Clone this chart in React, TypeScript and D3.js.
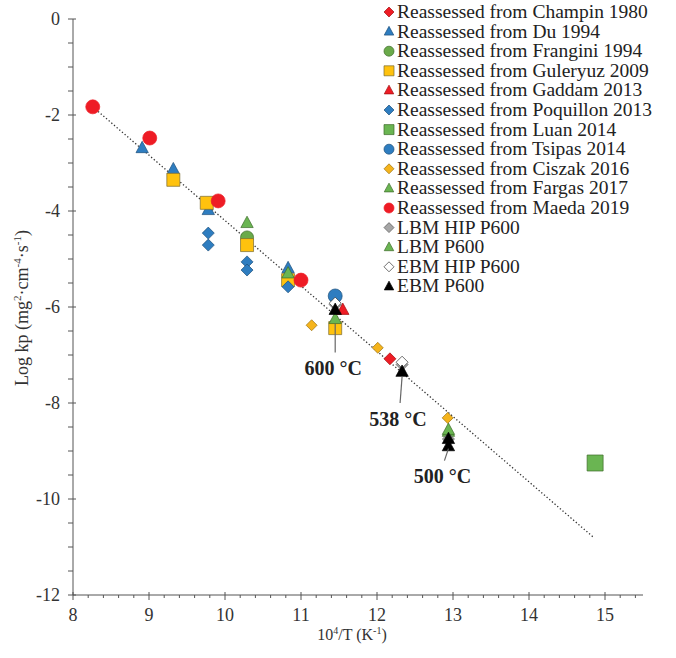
import React, { useEffect, useRef } from "react";
import * as d3 from "d3";

// series data: [10^4/T, log kp]
const champin = [[12.17, -7.08]];
const du = [[8.91, -2.69], [9.32, -3.13], [9.78, -3.98], [10.83, -5.19]];
const frangini = [[10.29, -4.55]];
const guleryuz = [[9.32, -3.35], [9.76, -3.83], [10.29, -4.71], [10.83, -5.44], [11.45, -6.44]];
const gaddam = [[11.55, -6.06]];
const poquillon = [[9.78, -4.46], [9.78, -4.71], [10.29, -5.06], [10.29, -5.23], [10.83, -5.58]];
const luan = [[14.87, -9.25]];
const tsipas = [[11.45, -5.77]];
const ciszak = [[11.14, -6.38], [12.01, -6.85], [12.93, -8.31]];
const fargas = [[10.29, -4.25], [10.83, -5.3], [12.94, -8.6]];
const maeda = [[8.26, -1.83], [9.01, -2.48], [9.91, -3.79], [11.0, -5.44]];
const lbmHip = [[11.45, -5.95], [12.33, -7.2], [12.94, -8.75]];
const lbmP600 = [[11.45, -6.25], [12.94, -8.56]];
const ebmHip = [[11.45, -5.92], [12.33, -7.15]];
const ebmP600 = [[11.45, -6.06], [12.33, -7.35], [12.94, -8.75], [12.94, -8.9]];

const series = [
  { name: "Reassessed from Champin 1980", shape: "diamond", fill: "#ee1c25", stroke: "#a01010", size: 12, data: champin },
  { name: "Reassessed from Du 1994", shape: "triangle", fill: "#2e7dc0", stroke: "#1d4f7a", size: 13, data: du },
  { name: "Reassessed from Frangini 1994", shape: "circle", fill: "#6aaa4a", stroke: "#3e6b2a", size: 13, data: frangini },
  { name: "Reassessed from Guleryuz 2009", shape: "square", fill: "#ffc20e", stroke: "#7a6a30", size: 13, data: guleryuz },
  { name: "Reassessed from Gaddam 2013", shape: "triangle", fill: "#ee1c25", stroke: "#a01010", size: 13, data: gaddam },
  { name: "Reassessed from Poquillon 2013", shape: "diamond", fill: "#2e7dc0", stroke: "#1d4f7a", size: 12, data: poquillon },
  { name: "Reassessed from Luan 2014", shape: "square", fill: "#6ab552", stroke: "#3e6b2a", size: 16, data: luan },
  { name: "Reassessed from Tsipas 2014", shape: "circle", fill: "#2e7dc0", stroke: "#1d4f7a", size: 14, data: tsipas },
  { name: "Reassessed from Ciszak 2016", shape: "diamond", fill: "#f5b41c", stroke: "#9a7010", size: 11, data: ciszak },
  { name: "Reassessed from Fargas 2017", shape: "triangle", fill: "#6ab552", stroke: "#3e6b2a", size: 13, data: fargas },
  { name: "Reassessed from Maeda 2019", shape: "circle", fill: "#ee1c25", stroke: "#ee1c25", size: 14, data: maeda },
  { name: "LBM HIP P600", shape: "diamond", fill: "#a6a6a6", stroke: "#555555", size: 12, data: lbmHip },
  { name: "LBM P600", shape: "triangle", fill: "#6ab552", stroke: "#3e6b2a", size: 13, data: lbmP600 },
  { name: "EBM HIP P600", shape: "diamond", fill: "#ffffff", stroke: "#333333", size: 12, data: ebmHip },
  { name: "EBM P600", shape: "triangle", fill: "#000000", stroke: "#000000", size: 13, data: ebmP600 },
];

// dotted trend line end points
const trend = [[8.26, -1.83], [14.85, -10.8]];

// temperature callouts
const callouts = [
  { x: 11.45, y1: -6.35, y2: -6.95, ty: -7.3, dx: 0, label: "600 °C" },
  { x: 12.33, y1: -7.45, y2: -8.0, ty: -8.35, dx: -2, label: "538 °C" },
  { x: 12.94, y1: -8.95, y2: -9.2, ty: -9.55, dx: -4, label: "500 °C" },
];

const xTicks = [8, 9, 10, 11, 12, 13, 14, 15];
const yTicks = [0, -2, -4, -6, -8, -10, -12];

function shapePath(shape: string, s: number) {
  const h = s / 2;
  if (shape === "square") return `M${-h},${-h}H${h}V${h}H${-h}Z`;
  if (shape === "diamond") return `M0,${-h}L${h},0L0,${h}L${-h},0Z`;
  // triangle
  return `M0,${-h * 1.05}L${h * 0.95},${h * 0.7}L${-h * 0.95},${h * 0.7}Z`;
}

function drawMarker(g: any, shape: string, s: number, fill: string, stroke: string, x: number, y: number) {
  if (shape === "circle") {
    g.append("circle").attr("cx", x).attr("cy", y).attr("r", s / 2)
      .attr("fill", fill).attr("stroke", stroke).attr("stroke-width", 0.7);
  } else {
    g.append("path").attr("d", shapePath(shape, s))
      .attr("transform", `translate(${x},${y})`)
      .attr("fill", fill).attr("stroke", stroke).attr("stroke-width", 0.7);
  }
}

export default function App() {
  const ref = useRef<SVGSVGElement>(null);

  useEffect(() => {
    const svg = d3.select(ref.current);
    svg.selectAll("*").remove();
    const font = "'Liberation Serif', 'Times New Roman', serif";

    const x = d3.scaleLinear().domain([8, 15.5]).range([73, 643]);
    const y = d3.scaleLinear().domain([-12, 0]).range([595, 19]);

    const axes = svg.append("g").attr("stroke", "#555").attr("stroke-width", 1);
    axes.append("line").attr("x1", x(8)).attr("x2", x(15.5)).attr("y1", y(-12)).attr("y2", y(-12));
    axes.append("line").attr("x1", x(8)).attr("x2", x(8)).attr("y1", y(0)).attr("y2", y(-12));

    d3.range(0, 38).map(i => 8 + i * 0.2).forEach(v => {
      const major = Math.abs(v - Math.round(v)) < 0.01;
      axes.append("line").attr("x1", x(v)).attr("x2", x(v))
        .attr("y1", y(-12) - (major ? 3 : 0)).attr("y2", y(-12) + (major ? 5 : 3));
    });
    d3.range(0, 25).map(i => -i * 0.5).forEach(v => {
      const major = Math.abs(v / 2 - Math.round(v / 2)) < 0.01;
      axes.append("line").attr("y1", y(v)).attr("y2", y(v))
        .attr("x1", x(8) - 5).attr("x2", x(8) + (major ? 3 : 0));
    });

    svg.append("g").selectAll("text").data(xTicks).enter().append("text")
      .attr("x", d => x(d)).attr("y", y(-12) + 26)
      .attr("text-anchor", "middle").style("font-family", font).style("font-size", "18px")
      .attr("fill", "#333").text(d => d);
    svg.append("g").selectAll("text").data(yTicks).enter().append("text")
      .attr("x", x(8) - 13).attr("y", d => y(d) + 6)
      .attr("text-anchor", "end").style("font-family", font).style("font-size", "18px")
      .attr("fill", "#333").text(d => d);

    // axis titles
    const xt = svg.append("text").attr("x", 352).attr("y", 640).attr("text-anchor", "middle")
      .style("font-family", font).style("font-size", "16px").attr("fill", "#333");
    xt.append("tspan").text("10");
    xt.append("tspan").attr("dy", -6).style("font-size", "10px").text("4");
    xt.append("tspan").attr("dy", 6).text("/T (K");
    xt.append("tspan").attr("dy", -6).style("font-size", "10px").text("-1");
    xt.append("tspan").attr("dy", 6).text(")");

    const yt = svg.append("text").attr("transform", "translate(28,308) rotate(-90)").attr("text-anchor", "middle")
      .style("font-family", font).style("font-size", "18px").attr("fill", "#333");
    yt.append("tspan").text("Log kp (mg");
    yt.append("tspan").attr("dy", -7).style("font-size", "11px").text("2");
    yt.append("tspan").attr("dy", 7).text("·cm");
    yt.append("tspan").attr("dy", -7).style("font-size", "11px").text("-4");
    yt.append("tspan").attr("dy", 7).text("·s");
    yt.append("tspan").attr("dy", -7).style("font-size", "11px").text("-1");
    yt.append("tspan").attr("dy", 7).text(")");

    // trend line
    svg.append("path")
      .attr("d", d3.line()(trend.map(d => [x(d[0]), y(d[1])]) as any))
      .attr("stroke", "#333").attr("stroke-width", 1.3).attr("stroke-dasharray", "1.3,2.2").attr("fill", "none");

    // markers
    const marks = svg.append("g");
    series.forEach(s => {
      s.data.forEach(d => drawMarker(marks, s.shape, s.size, s.fill, s.stroke, x(d[0]), y(d[1])));
    });

    // temperature callouts
    callouts.forEach(c => {
      svg.append("line").attr("x1", x(c.x)).attr("x2", x(c.x) + c.dx)
        .attr("y1", y(c.y1)).attr("y2", y(c.y2)).attr("stroke", "#666").attr("stroke-width", 1.2);
      svg.append("text").attr("x", x(c.x) + c.dx - 2).attr("y", y(c.ty) + 6).attr("text-anchor", "middle")
        .style("font-family", font).style("font-size", "20px").style("font-weight", "bold")
        .attr("fill", "#222").text(c.label);
    });

    // legend
    const leg = svg.append("g");
    series.forEach((s, i) => {
      const ly = 12 + i * 19.6;
      drawMarker(leg, s.shape, 10, s.fill, s.stroke, 389, ly);
      leg.append("text").attr("x", 397).attr("y", ly + 6)
        .style("font-family", font).style("font-size", "19.5px").attr("fill", "#222").text(s.name);
    });
  }, []);

  return (
    <svg ref={ref} width={676} height={658}
      style={{ position: "absolute", left: 0, top: 0, background: "#fff" }} />
  );
}
